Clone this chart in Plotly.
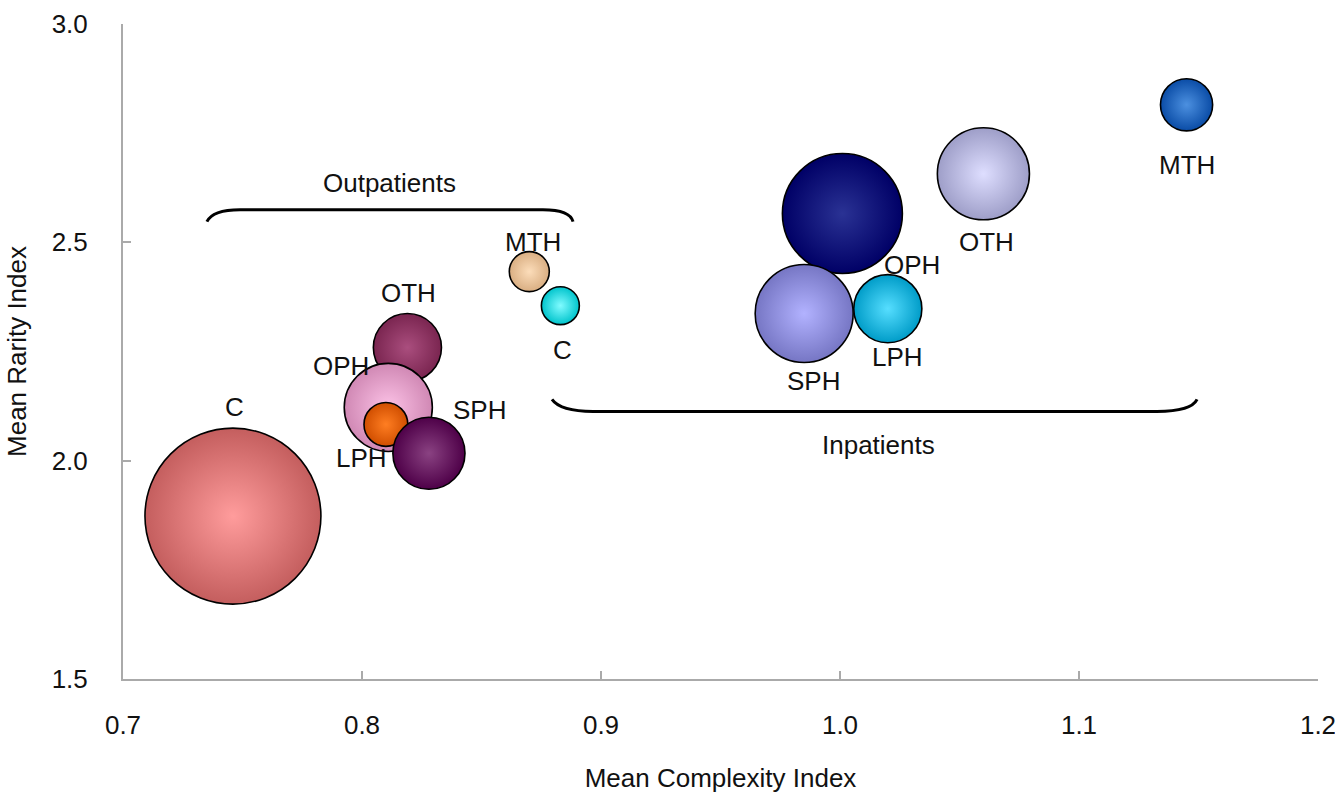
import plotly.graph_objects as go

# ---------------- data ----------------
out_labels = ["C", "OTH", "OPH", "LPH", "SPH", "MTH"]
out_complexity = [0.746, 0.819, 0.811, 0.810, 0.828, 0.870]
out_rarity = [1.873, 2.259, 2.122, 2.083, 2.017, 2.433]
out_size = [77.4, 11.6, 19.4, 4.8, 13.0, 4.0]

in_labels = ["C", "OPH", "OTH", "MTH", "SPH", "LPH"]
in_complexity = [0.883, 1.001, 1.060, 1.145, 0.985, 1.020]
in_rarity = [2.355, 2.566, 2.657, 2.815, 2.337, 2.348]
in_size = [3.6, 36.0, 21.2, 6.8, 24.0, 11.6]

x_ticks = [0.7, 0.8, 0.9, 1.0, 1.1, 1.2]
y_ticks = [1.5, 2.0, 2.5, 3.0]

# ---------------- styles ----------------
out_edge = ["#C45E5E", "#7A2550", "#D088B4", "#D04E00", "#4E0048", "#D9AE82"]
out_center = ["#FF9C9C", "#AA4E7E", "#FCC2E6", "#FF7E22", "#8A4282", "#FCDDBA"]
in_edge = ["#00C4CC", "#000066", "#9E9EC8", "#0A4CA6", "#7676C4", "#009CC8"]
in_center = ["#80FBFF", "#2A3294", "#DEDEFF", "#4C90E0", "#B2B2FF", "#56DEFF"]

out_offsets = [(2, 109), (1, 55), (-47, 41), (-24, -34), (51, 43), (4, 30)]
in_offsets = [(2, -44), (70, -51), (3, -68), (0, -60), (9, -67), (10, -48)]

FONT = "Liberation Sans, Arial, Helvetica, sans-serif"
SIZEREF = 0.005

fig = go.Figure()

for xs, ys, ss, edge, center, name in [
    (out_complexity, out_rarity, out_size, out_edge, out_center, "Outpatients"),
    (in_complexity, in_rarity, in_size, in_edge, in_center, "Inpatients"),
]:
    fig.add_trace(go.Scatter(
        x=xs, y=ys, mode="markers", name=name,
        marker=dict(
            size=ss, sizemode="area", sizeref=SIZEREF,
            color=edge,
            gradient=dict(type="radial", color=center),
            line=dict(color="black", width=1.6),
            opacity=1,
        ),
        hoverinfo="skip",
    ))

annotations = []
for labels, xs, ys, offs in [
    (out_labels, out_complexity, out_rarity, out_offsets),
    (in_labels, in_complexity, in_rarity, in_offsets),
]:
    for lab, x, y, (dx, dy) in zip(labels, xs, ys, offs):
        annotations.append(dict(
            x=x, y=y, text=lab, showarrow=False, xshift=dx, yshift=dy,
            xanchor="center", yanchor="middle",
            font=dict(family=FONT, size=26, color="#111111"),
        ))

# group captions
annotations.append(dict(x=0.8117, y=2.636, text="Outpatients", showarrow=False,
                        xanchor="center", yanchor="middle",
                        font=dict(family=FONT, size=26, color="#111111")))
annotations.append(dict(x=1.0159, y=2.037, text="Inpatients", showarrow=False,
                        xanchor="center", yanchor="middle",
                        font=dict(family=FONT, size=26, color="#111111")))

# brackets
shapes = [
    dict(type="path", xref="x", yref="y",
         path="M 0.7351,2.5472 Q 0.7375,2.5747 0.7490,2.5747 L 0.8757,2.5747 "
              "Q 0.8870,2.5747 0.8883,2.5472",
         line=dict(color="black", width=3)),
    dict(type="path", xref="x", yref="y",
         path="M 0.8795,2.1402 Q 0.8830,2.1127 0.8967,2.1127 L 1.1326,2.1127 "
              "Q 1.1470,2.1127 1.1494,2.1402",
         line=dict(color="black", width=3)),
]

axis_common = dict(
    showgrid=False, zeroline=False, showline=True,
    linecolor="#AAAAAA", linewidth=2,
    ticks="inside", ticklen=8, tickwidth=1.5, tickcolor="#AAAAAA",
    tickfont=dict(family=FONT, size=26, color="#111111"),
    tickformat=".1f", automargin=False, ticklabeloverflow="allow",
)

fig.update_layout(
    width=1335, height=797,
    margin=dict(l=123, r=17, t=24, b=118, autoexpand=False),
    paper_bgcolor="white", plot_bgcolor="white",
    showlegend=False,
    annotations=annotations,
    shapes=shapes,
    xaxis=dict(range=[0.7, 1.2], tickvals=x_ticks, ticklabelstandoff=22,
               title=dict(text="Mean Complexity Index", standoff=30,
                          font=dict(family=FONT, size=26, color="#111111")),
               **axis_common),
    yaxis=dict(range=[1.5, 3.0], tickvals=y_ticks, ticklabelstandoff=28,
               title=dict(text="Mean Rarity Index", standoff=18,
                          font=dict(family=FONT, size=26, color="#111111")),
               **axis_common),
)

fig.write_html(
    "out.html",
    config={"displayModeBar": False},
    post_script="document.body.style.margin='0';document.body.style.overflow='hidden';",
)
